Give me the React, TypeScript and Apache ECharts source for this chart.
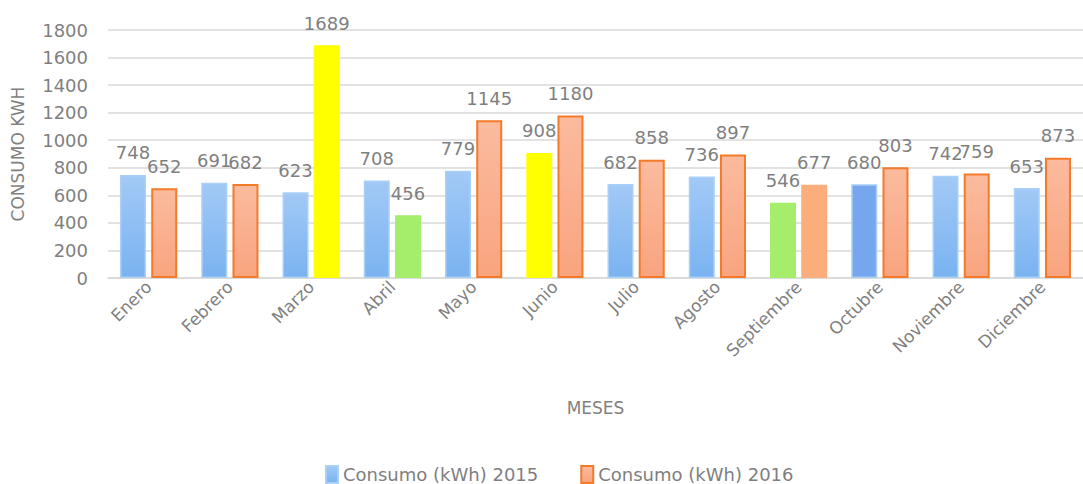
import React, { useEffect, useRef } from "react";
import * as echarts from "echarts";

const months = ["Enero", "Febrero", "Marzo", "Abril", "Mayo", "Junio", "Julio", "Agosto", "Septiembre", "Octubre", "Noviembre", "Diciembre"];
const consumo2015 = [748, 691, 623, 708, 779, 908, 682, 736, 546, 680, 742, 653];
const consumo2016 = [652, 682, 1689, 456, 1145, 1180, 858, 897, 677, 803, 759, 873];
const seriesNames = ["Consumo (kWh) 2015", "Consumo (kWh) 2016"];

const GRAY = "#7f7f7f";
const FONT = "DejaVu Sans";

const blueFill = new echarts.graphic.LinearGradient(0, 0, 0, 1, [
  { offset: 0, color: "#a2c9f6" },
  { offset: 1, color: "#7ab3f1" },
]);
const orangeFill = new echarts.graphic.LinearGradient(0, 0, 0, 1, [
  { offset: 0, color: "#fbbb9e" },
  { offset: 1, color: "#f9a47f" },
]);

const override2015: Record<number, any> = {
  5: { color: "#ffff00", borderWidth: 0 },
  8: { color: "#a4ee6b", borderWidth: 0 },
  9: { color: "#76a6ee", borderColor: "#a6cdf5" },
};
const override2016: Record<number, any> = {
  2: { color: "#ffff00", borderWidth: 0 },
  3: { color: "#a4ee6b", borderWidth: 0 },
  8: { color: "#fbae7b", borderWidth: 0 },
};

export default function App() {
  const ref = useRef<HTMLDivElement>(null);
  useEffect(() => {
    if (!ref.current) return;
    const chart = echarts.init(ref.current, null, { renderer: "svg" });
    const label = {
      show: true,
      position: "top",
      distance: 13,
      color: GRAY,
      fontSize: 18,
      fontFamily: FONT,
    };
    chart.setOption({
      animation: false,
      textStyle: { fontFamily: FONT },
      grid: { left: 108, top: 30, width: 984, bottom: 206, containLabel: false },
      legend: {
        top: 460,
        left: 320,
        itemWidth: 12,
        itemHeight: 17,
        itemGap: 42,
        icon: "rect",
        textStyle: { color: GRAY, fontSize: 18, fontFamily: FONT },
        data: seriesNames,
      },
      xAxis: {
        type: "category",
        data: months,
        name: "MESES",
        nameLocation: "middle",
        nameGap: 121,
        nameTextStyle: { color: GRAY, fontSize: 17, fontFamily: FONT },
        axisLine: { lineStyle: { color: "#d9d9d9", width: 1.5 } },
        axisTick: { show: false },
        axisLabel: { rotate: 45, color: GRAY, fontSize: 17, fontFamily: FONT, margin: 6, interval: 0 },
      },
      yAxis: {
        type: "value",
        min: 0,
        max: 1800,
        interval: 200,
        name: "CONSUMO KWH",
        nameLocation: "middle",
        nameGap: 82,
        nameTextStyle: { color: GRAY, fontSize: 17, fontFamily: FONT, padding: [0, 0, 0, 0] },
        axisLabel: { color: GRAY, fontSize: 18, fontFamily: FONT, margin: 20, formatter: (v: number) => String(v) },
        splitLine: { lineStyle: { color: "#d9d9d9", width: 1.5 } },
        axisLine: { show: false },
        axisTick: { show: false },
      },
      series: [
        {
          name: seriesNames[0],
          type: "bar",
          barWidth: 26,
          barGap: "20%",
          itemStyle: { color: blueFill, borderColor: "#a9d0f7", borderWidth: 1.5 },
          label,
          data: consumo2015.map((v, i) => (override2015[i] ? { value: v, itemStyle: override2015[i] } : v)),
        },
        {
          name: seriesNames[1],
          type: "bar",
          barWidth: 26,
          barGap: "20%",
          itemStyle: { color: orangeFill, borderColor: "#f47a2a", borderWidth: 2 },
          label,
          data: consumo2016.map((v, i) => (override2016[i] ? { value: v, itemStyle: override2016[i] } : v)),
        },
      ],
    });
    return () => chart.dispose();
  }, []);
  return <div ref={ref} style={{ width: 1083, height: 484, position: "absolute", left: 0, top: 0 }} />;
}
